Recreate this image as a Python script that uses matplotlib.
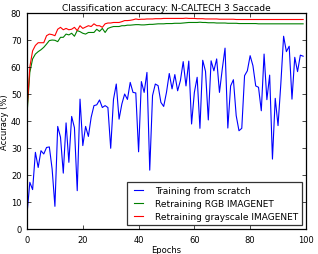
import numpy as np
import matplotlib
matplotlib.use("Agg")
import matplotlib.pyplot as plt

plt.style.use("classic")

epochs = np.arange(100)

scratch = [
    5.6, 17.3, 14.6, 28.4, 22.8, 29.0, 27.8, 30.2, 30.4, 22.2,
    8.4, 38.0, 34.0, 20.7, 39.3, 24.7, 41.7, 37.5, 14.2, 48.1,
    30.9, 38.0, 34.3, 41.4, 45.7, 46.0, 47.8, 45.0, 45.7, 45.0,
    29.9, 48.0, 53.7, 40.7, 46.3, 50.0, 48.0, 54.3, 50.6, 50.4,
    28.6, 54.6, 50.6, 58.0, 21.8, 49.4, 53.7, 53.1, 46.9, 45.4,
    50.6, 57.6, 51.9, 57.2, 51.2, 55.0, 62.0, 53.0, 62.2, 38.9,
    50.6, 56.2, 37.3, 62.5, 58.4, 40.4, 62.3, 58.6, 63.0, 50.6,
    59.2, 67.0, 37.4, 53.0, 55.3, 42.0, 36.4, 37.3, 56.8, 58.6,
    64.2, 60.5, 53.0, 52.5, 43.8, 64.8, 47.9, 57.0, 25.9, 48.4,
    38.3, 53.7, 71.4, 65.7, 67.7, 48.1, 63.6, 58.3, 64.4, 64.0,
]

rgb = [
    42.5, 58.0, 63.0, 64.8, 65.7, 66.4, 67.3, 68.5, 69.8, 70.0,
    69.9, 69.4, 71.0, 71.0, 72.2, 71.9, 72.5, 71.4, 73.5, 73.1,
    72.5, 72.2, 72.8, 72.8, 72.8, 74.0, 73.2, 74.3, 72.8, 74.3,
    74.7, 75.0, 75.0, 75.0, 75.3, 75.3, 75.5, 75.5, 75.6, 75.7,
    75.7, 75.6, 75.6, 75.7, 75.8, 75.8, 75.9, 76.0, 76.0, 76.0,
    76.1, 76.1, 76.1, 76.2, 76.2, 76.2, 76.3, 76.4, 76.5, 76.5,
    76.5, 76.5, 76.6, 76.5, 76.5, 76.4, 76.4, 76.4, 76.3, 76.3,
    76.3, 76.3, 76.2, 76.2, 76.2, 76.2, 76.1, 76.1, 76.1, 76.1,
    76.1, 76.1, 76.1, 76.0, 76.0, 76.0, 76.0, 76.0, 76.0, 76.0,
    76.0, 76.0, 76.0, 76.0, 76.0, 76.0, 76.0, 76.0, 76.0, 76.0,
]

gray = [
    44.0, 60.0, 66.0, 68.0, 69.0, 69.0, 69.0, 71.6, 72.2, 72.0,
    71.6, 74.0, 74.7, 73.8, 74.3, 73.8, 74.0, 74.7, 73.5, 75.3,
    74.3, 74.8, 75.3, 75.0, 76.0, 75.3, 75.3, 74.7, 76.0, 76.3,
    76.3, 76.5, 76.5, 76.5, 76.8, 77.2, 77.2, 77.3, 77.5, 77.8,
    77.6, 77.7, 77.7, 77.8, 77.8, 77.8, 77.9, 77.9, 77.9, 78.0,
    78.0, 78.0, 78.0, 78.0, 78.0, 78.0, 78.0, 78.1, 78.0, 78.0,
    78.0, 77.9, 77.9, 77.9, 77.8, 77.8, 77.8, 77.8, 77.8, 77.7,
    77.7, 77.7, 77.7, 77.7, 77.7, 77.6, 77.6, 77.6, 77.6, 77.6,
    77.6, 77.6, 77.6, 77.6, 77.6, 77.6, 77.6, 77.6, 77.6, 77.6,
    77.6, 77.6, 77.6, 77.6, 77.6, 77.6, 77.6, 77.6, 77.6, 77.6,
]

labels = ["Training from scratch", "Retraining RGB IMAGENET",
          "Retraining grayscale IMAGENET"]

fig = plt.figure(figsize=(3.18, 2.55), dpi=100, facecolor="white")
ax = fig.add_axes([0.085, 0.098, 0.877, 0.847])

ax.plot(epochs, scratch, color="b", lw=0.8, label=labels[0])
ax.plot(epochs, rgb, color="g", lw=0.8, label=labels[1])
ax.plot(epochs, gray, color="r", lw=0.8, label=labels[2])

ax.set_xlim(0, 100)
ax.set_ylim(0, 80)
ax.set_xticks(np.arange(0, 101, 20))
ax.set_yticks(np.arange(0, 81, 10))
ax.tick_params(labelsize=6, length=3, width=0.5)
for s in ax.spines.values():
    s.set_linewidth(0.9)

ax.set_title("Classification accuracy: N-CALTECH 3 Saccade", fontsize=6.5, pad=2)
ax.set_xlabel("Epochs", fontsize=6, labelpad=1)
ax.set_ylabel("Accuracy (%)", fontsize=6, labelpad=1)

leg = ax.legend(loc="lower right", fontsize=6.5, handlelength=1.6,
                handletextpad=1.0, borderpad=0.45, labelspacing=0.45,
                fancybox=False, borderaxespad=0.45)
leg.get_frame().set_linewidth(0.9)
leg.get_frame().set_edgecolor("#333333")

fig.savefig("out.png", dpi=100, facecolor="white")
